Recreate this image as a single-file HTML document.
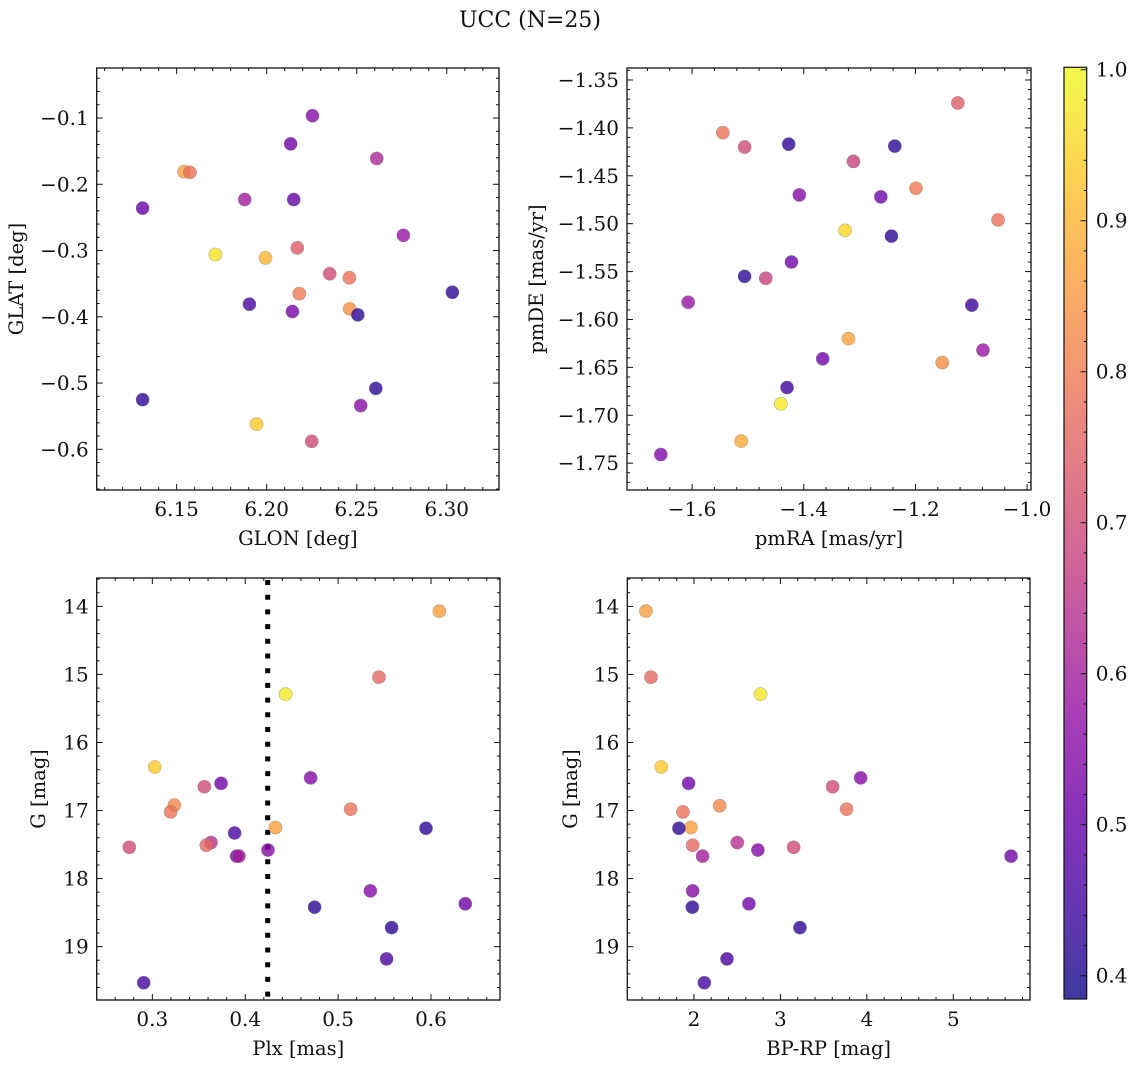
<!DOCTYPE html>
<html><head><meta charset="utf-8">
<style>
html,body{margin:0;padding:0;background:#fff;}
svg{display:block;font-family:"DejaVu Serif","Liberation Serif",serif;}
</style></head>
<body>
<svg id="fig" width="1136" height="1067" viewBox="0 0 1136 1067">
<text x="530" y="27" text-anchor="middle" font-size="22" fill="#111">UCC (N=25)</text>
</svg>
<script>
// ---------- data ----------
const glon = [6.2254,6.2133,6.2611,6.1541,6.1574,6.1311,6.1878,6.2150,6.2759,6.2170,6.1715,6.1993,6.2350,6.2459,6.2181,6.3031,6.1904,6.2461,6.2143,6.2506,6.2606,6.1311,6.2522,6.1944,6.2250];
const glat = [-0.0965,-0.139,-0.161,-0.181,-0.182,-0.236,-0.223,-0.223,-0.277,-0.296,-0.306,-0.311,-0.335,-0.341,-0.365,-0.363,-0.381,-0.388,-0.392,-0.397,-0.508,-0.525,-0.534,-0.562,-0.588];
const c1 = [0.55,0.52,0.62,0.86,0.78,0.5,0.6,0.5,0.58,0.74,0.97,0.9,0.7,0.78,0.8,0.42,0.46,0.84,0.53,0.42,0.42,0.42,0.56,0.93,0.7];

const pmra = [-1.124,-1.545,-1.506,-1.427,-1.237,-1.311,-1.199,-1.408,-1.262,-1.052,-1.326,-1.243,-1.422,-1.506,-1.468,-1.607,-1.099,-1.320,-1.079,-1.366,-1.152,-1.430,-1.441,-1.512,-1.656];
const pmde = [-1.374,-1.405,-1.420,-1.417,-1.419,-1.435,-1.463,-1.470,-1.472,-1.496,-1.507,-1.513,-1.540,-1.555,-1.557,-1.582,-1.585,-1.620,-1.632,-1.641,-1.645,-1.671,-1.688,-1.727,-1.741];
const c2 = [0.74,0.78,0.7,0.42,0.42,0.68,0.8,0.55,0.52,0.78,0.95,0.42,0.52,0.42,0.68,0.58,0.44,0.87,0.58,0.52,0.83,0.44,0.98,0.88,0.54];

const plx = [0.609,0.544,0.4435,0.3025,0.4704,0.356,0.374,0.3237,0.3197,0.5135,0.4324,0.5946,0.3886,0.2752,0.3632,0.3581,0.4245,0.3908,0.3933,0.5347,0.6369,0.4747,0.5576,0.5522,0.2907];
const gmag3 = [14.07,15.04,15.29,16.36,16.52,16.65,16.60,16.92,17.02,16.98,17.25,17.26,17.33,17.54,17.47,17.51,17.58,17.67,17.67,18.18,18.37,18.42,18.72,19.18,19.53];
const c3 = [0.86,0.76,0.98,0.93,0.55,0.7,0.52,0.82,0.78,0.78,0.86,0.42,0.46,0.7,0.64,0.76,0.55,0.52,0.6,0.55,0.52,0.42,0.42,0.46,0.45];
const plxCut = [0.4242];

const bprp = [1.445,1.503,2.771,1.622,1.938,3.928,3.604,2.297,1.873,3.766,1.965,1.826,2.501,3.153,1.985,2.740,2.100,5.668,1.985,2.636,1.981,3.226,2.382,2.120];
const gmag4 = [14.07,15.04,15.29,16.36,16.60,16.52,16.65,16.93,17.02,16.98,17.25,17.26,17.47,17.54,17.51,17.58,17.67,17.67,18.18,18.37,18.42,18.72,19.18,19.53];
const c4 = [0.86,0.76,0.98,0.93,0.52,0.55,0.7,0.82,0.78,0.78,0.86,0.42,0.64,0.7,0.76,0.55,0.6,0.52,0.55,0.52,0.42,0.42,0.46,0.45];

const cbTicks = [0.4,0.5,0.6,0.7,0.8,0.9,1.0];

// ---------- helpers ----------
const NS = "http://www.w3.org/2000/svg";
const svg = document.getElementById('fig');
function mk(tag, attrs, parent){
  const e = document.createElementNS(NS, tag);
  for (const k in attrs) e.setAttribute(k, attrs[k]);
  (parent||svg).appendChild(e);
  return e;
}
const plasma = ["#0d0887","#41049d","#6a00a8","#8f0da4","#b12a90","#cc4778","#e16462","#f2844b","#fca636","#fcce25","#f0f921"];
function hex(h){return [parseInt(h.slice(1,3),16),parseInt(h.slice(3,5),16),parseInt(h.slice(5,7),16)];}
const CMIN = 0.3846, CMAX = 1.0016;
function cmap(v){
  let t = (v-CMIN)/(CMAX-CMIN); t=Math.max(0,Math.min(1,t));
  const p = t*10, i = Math.min(9,Math.floor(p)), f = p-i;
  const a = hex(plasma[i]), b = hex(plasma[i+1]);
  const r = a.map((x,k)=>Math.round(x+(b[k]-x)*f));
  return `rgb(${r[0]},${r[1]},${r[2]})`;
}
function fmt(v,d){ const s = Math.abs(v).toFixed(d); return (v < -1e-9 ? "\u2212" : "") + s; }
function range(lo,hi,step){
  const out=[]; const a=Math.ceil(lo/step-1e-6), b=Math.floor(hi/step+1e-6);
  for(let i=a;i<=b;i++) out.push(+(i*step).toFixed(6));
  return out;
}

function panel(name, box, xd, yd, xMaj, xMin, yMaj, yMin, xDec, yDec, xlabel, ylabel, ylabX){
  const g = mk('g', {}, svg);
  
  
  const sx = v => box.x0 + (v-xd[0])/(xd[1]-xd[0])*(box.x1-box.x0);
  const sy = v => box.y0 + (v-yd[0])/(yd[1]-yd[0])*(box.y1-box.y0);
  const xs = [Math.min(xd[0],xd[1]),Math.max(xd[0],xd[1])], ys=[Math.min(yd[0],yd[1]),Math.max(yd[0],yd[1])];
  const tg = mk('g', {stroke:"#111","stroke-width":1}, g);
  
  
  const majX = range(xs[0],xs[1],xMaj), majY = range(ys[0],ys[1],yMaj);
  range(xs[0],xs[1],xMin).forEach(v=>{
    const isMaj = majX.some(m=>Math.abs(m-v)<1e-6); const L = isMaj?6:3; const x=sx(v);
    mk('line',{x1:x,x2:x,y1:box.y1,y2:box.y1-L},tg); mk('line',{x1:x,x2:x,y1:box.y0,y2:box.y0+L},tg);
  });
  range(ys[0],ys[1],yMin).forEach(v=>{
    const isMaj = majY.some(m=>Math.abs(m-v)<1e-6); const L = isMaj?6:3; const y=sy(v);
    mk('line',{x1:box.x0,x2:box.x0+L,y1:y,y2:y},tg); mk('line',{x1:box.x1,x2:box.x1-L,y1:y,y2:y},tg);
  });
  majX.forEach(v=>{
    const t = mk('text',{x:sx(v),y:box.y1+26,"text-anchor":"middle","font-size":20,fill:"#111"},g);
    t.textContent = fmt(v,xDec);
    
    
  });
  majY.forEach(v=>{
    const t = mk('text',{x:box.x0-8,y:sy(v)+7,"text-anchor":"end","font-size":20,fill:"#111"},g);
    t.textContent = fmt(v,yDec);
    
    
  });
  const xl = mk('text',{x:(box.x0+box.x1)/2,y:box.y1+55,"text-anchor":"middle","font-size":19.5,fill:"#111"},g);
  xl.textContent = xlabel;
  
  
  const cy=(box.y0+box.y1)/2;
  const yl = mk('text',{x:ylabX,y:cy,"text-anchor":"middle","font-size":19.5,fill:"#111",transform:`rotate(-90 ${ylabX} ${cy})`},g);
  yl.textContent = ylabel;
  
  
  return {g,sx,sy,box};
}
function frame(p,name){
  const r = mk('rect',{x:p.box.x0,y:p.box.y0,width:p.box.x1-p.box.x0,height:p.box.y1-p.box.y0,fill:"none",stroke:"#111","stroke-width":1.3},p.g);
  
  
}
function scatter(p,name,xs,ys,cs){
  const pg = mk('g',{},p.g);
  
  
  xs.forEach((x,i)=>{
    const c = mk('circle',{cx:p.sx(x),cy:p.sy(ys[i]),r:6.6,fill:cmap(cs[i]),"fill-opacity":0.8,stroke:"#777","stroke-opacity":0.5,"stroke-width":0.6},pg);
    
    
  });
}

const p1 = panel('glon-glat-panel',{x0:96.7,x1:499,y0:68,y1:490},[6.1056,6.329],[-0.0245,-0.6614],0.05,0.01,0.1,0.02,2,1,'GLON [deg]','GLAT [deg]',23);
scatter(p1,'glon-glat',glon,glat,c1); frame(p1,'glon-glat');
const p2 = panel('pm-panel',{x0:627,x1:1031,y0:68,y1:490},[-1.7166,-0.993],[-1.3375,-1.778],0.2,0.04,0.05,0.01,1,2,'pmRA [mas/yr]','pmDE [mas/yr]',543);
scatter(p2,'pm',pmra,pmde,c2); frame(p2,'pm');
const p3 = panel('plx-g-panel',{x0:96.7,x1:500,y0:578,y1:1000},[0.2401,0.6743],[13.583,19.784],0.1,0.02,1,0.2,1,0,'Plx [mas]','G [mag]',45);
const dl = mk('line',{x1:p3.sx(plxCut[0]),x2:p3.sx(plxCut[0]),y1:p3.box.y0+2,y2:p3.box.y1,stroke:"#000","stroke-width":5,"stroke-dasharray":"5 9.7"},p3.g);


scatter(p3,'plx-g',plx,gmag3,c3); frame(p3,'plx-g');
const p4 = panel('cmd-panel',{x0:627.3,x1:1030,y0:578,y1:1000},[1.229,5.887],[13.583,19.784],1,0.2,1,0.2,0,0,'BP-RP [mag]','G [mag]',577);
scatter(p4,'cmd',bprp,gmag4,c4); frame(p4,'cmd');

const cb = {x0:1064,x1:1086.7,y0:67.3,y1:999};
const defs = mk('defs',{});
const grad = mk('linearGradient',{id:'cbg',x1:0,y1:1,x2:0,y2:0},defs);
for(let k=0;k<=20;k++){ const v=CMIN+(CMAX-CMIN)*k/20; mk('stop',{offset:(k/20),"stop-color":cmap(v),"stop-opacity":0.8},grad); }
const cbg = mk('g',{});


mk('rect',{x:cb.x0,y:cb.y0,width:cb.x1-cb.x0,height:cb.y1-cb.y0,fill:"url(#cbg)",stroke:"#111","stroke-width":1.2},cbg);
const cy = v => cb.y1 - (v-CMIN)/(CMAX-CMIN)*(cb.y1-cb.y0);
range(CMIN,CMAX,0.02).forEach(v=>{
  const isMaj = cbTicks.some(m=>Math.abs(m-v)<1e-6);
  mk('line',{x1:cb.x1,x2:cb.x1-(isMaj?6:3),y1:cy(v),y2:cy(v),stroke:"#111","stroke-width":1},cbg);
});
cbTicks.forEach(v=>{
  const t = mk('text',{x:cb.x1+9,y:cy(v)+7,"font-size":20,fill:"#111"},cbg);
  t.textContent = v.toFixed(1);
  
  
});
</script>
</body></html>
